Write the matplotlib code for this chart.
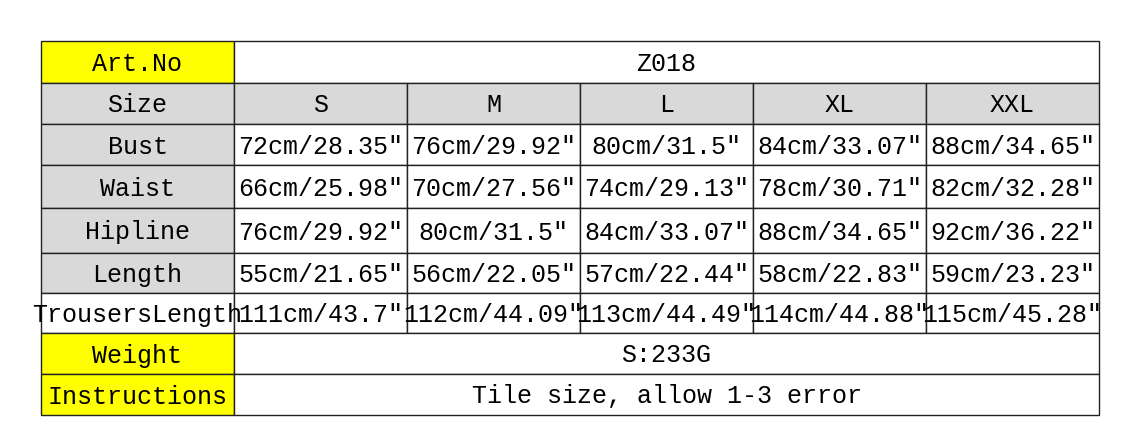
import matplotlib
matplotlib.use("Agg")
import matplotlib.pyplot as plt
from matplotlib.patches import Rectangle

sizes = ["S", "M", "L", "XL", "XXL"]
row_labels = ["Bust", "Waist", "Hipline", "Length", "TrousersLength"]
values = [
    ["72cm/28.35″", "76cm/29.92″", "80cm/31.5″", "84cm/33.07″", "88cm/34.65″"],
    ["66cm/25.98″", "70cm/27.56″", "74cm/29.13″", "78cm/30.71″", "82cm/32.28″"],
    ["76cm/29.92″", "80cm/31.5″", "84cm/33.07″", "88cm/34.65″", "92cm/36.22″"],
    ["55cm/21.65″", "56cm/22.05″", "57cm/22.44″", "58cm/22.83″", "59cm/23.23″"],
    ["111cm/43.7″", "112cm/44.09″", "113cm/44.49″", "114cm/44.88″", "115cm/45.28″"],
]
art_no = "Z018"
weight = "S:233G"
instructions = "Tile size, allow 1-3 error"

xs = [41, 234, 407, 580, 753, 926, 1099]
ys = [41, 83, 124, 165, 208, 253, 293, 333, 374, 415]
YEL, GRY = "#ffff00", "#d9d9d9"

fig = plt.figure(figsize=(11.41, 4.48), dpi=100)
ax = fig.add_axes([0, 0, 1, 1])
ax.set_xlim(0, 1141); ax.set_ylim(448, 0); ax.axis("off")
FONT = dict(family=["Liberation Mono", "DejaVu Sans Mono", "DejaVu Sans"], fontsize=18)

def cell(c0, c1, r, text, fc="white", clip=False):
    x0, x1, y0, y1 = xs[c0], xs[c1], ys[r], ys[r + 1]
    rect = Rectangle((x0, y0), x1 - x0, y1 - y0, facecolor=fc, edgecolor="#222222", lw=1)
    ax.add_patch(rect)
    t = ax.text((x0 + x1) / 2, (y0 + y1) / 2 + 2, text, ha="center", va="center", **FONT)
    if clip:
        cr = Rectangle((0, y0), x1 - 1, y1 - y0, transform=ax.transData, visible=False)
        ax.add_patch(cr)
        t.set_clip_path(cr)

cell(0, 1, 0, "Art.No", YEL)
cell(1, 6, 0, art_no)
cell(0, 1, 1, "Size", GRY)
for i, s in enumerate(sizes):
    cell(i + 1, i + 2, 1, s, GRY)
for r, (lab, vals) in enumerate(zip(row_labels, values)):
    fc = "white" if lab == "TrousersLength" else GRY
    cell(0, 1, r + 2, lab, fc, clip=True)
    for i, v in enumerate(vals):
        cell(i + 1, i + 2, r + 2, v)
cell(0, 1, 7, "Weight", YEL)
cell(1, 6, 7, weight)
cell(0, 1, 8, "Instructions", YEL)
cell(1, 6, 8, instructions)

fig.savefig("out.png", dpi=100)
